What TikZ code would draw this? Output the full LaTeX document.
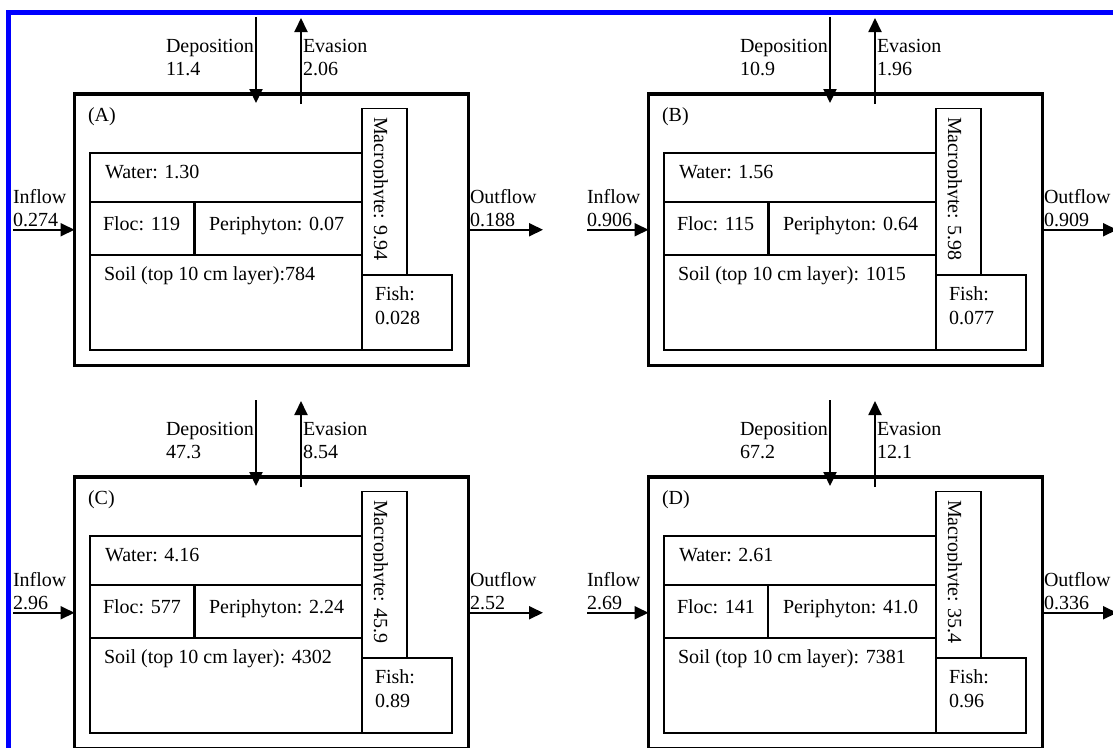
\documentclass[tikz,border=0pt]{standalone}
\usepackage{fontspec}
\setmainfont{Liberation Serif}
\usetikzlibrary{arrows.meta}
\tikzset{
  lbl/.style={anchor=base west, inner sep=0pt, outer sep=0pt, font=\fontsize{20pt}{24pt}\selectfont},
  outerbox/.style={draw, line width=3.5pt, inner sep=0pt, outer sep=0pt, anchor=north west},
  cell/.style={draw, line width=1.8pt, inner sep=0pt, outer sep=0pt, anchor=north west},
  flow/.style={line width=1.9pt, -{Triangle[length=14pt,width=13pt]}},
  bluframe/.style={draw=blue, line width=4.5pt}
}
\newcommand\setpanel[5]{\def\pperi{#1}\def\psoil{#2}\def\pmac{#3}\def\pfish{#4}\def\pdiv{#5}}
\newcommand\drawpanel[9]{%
\begin{scope}[shift={(#1,#2)}]
  \node[outerbox, minimum width=394pt, minimum height=271.5pt] (#3box) at (74.5,94) {};
  \node[cell, minimum width=272pt, minimum height=49pt] (#3water) at (90,153) {};
  \node[cell, minimum width=104.3pt, minimum height=53pt] (#3floc) at (90,202) {};
  \node[cell, minimum width=167.7pt, minimum height=53pt] (#3peri) at (194.3,202) {};
  \node[cell, minimum width=272pt, minimum height=95pt] (#3soil) at (90,255) {};
  \node[cell, minimum width=45pt, minimum height=166.2pt] (#3mac) at (362,108.5) {};
  \node[cell, minimum width=90pt, minimum height=75.3pt] (#3fish) at (362,274.7) {};
  \draw[line width=\pdiv] (#3floc.north east) -- (#3floc.south east);
  % flows
  \coordinate (#3dtop) at (256,17);
  \coordinate (#3dend) at (256,103);
  \draw[flow] (#3dtop) -- (#3dend);
  \coordinate (#3estart) at (301,104);
  \coordinate (#3etop) at (301,18);
  \draw[flow] (#3estart) -- (#3etop);
  \coordinate (#3in) at (13,229.75);
  \draw[flow] (#3in) -- (#3box.west);
  \coordinate (#3out) at (543,229.75);
  \draw[flow] (#3box.east) -- (#3out);
  % labels
  \node[lbl] (#3deplab) at (166,52) {Deposition};
  \node[lbl] (#3depval) at (166,75) {#4};
  \node[lbl] (#3evalab) at (303,52) {Evasion};
  \node[lbl] (#3evaval) at (303,75) {#5};
  \node[lbl] (#3inlab) at (13,203) {Inflow};
  \node[lbl] (#3inval) at (13,226.5) {#6};
  \node[lbl] (#3outlab) at (470,203) {Outflow};
  \node[lbl] (#3outval) at (470,226.5) {#7};
  \node[lbl] (#3tag) at (88,121.5) {(#3)};
  \node[lbl] (#3watlab) at (105,178.3) {Water: #8};
  \node[lbl] (#3floclab) at (103,230) {Floc: #9};
  \node[lbl] (#3perilab) at (209,230) {Periphyton: \pperi};
  \node[lbl] (#3soillab) at (104,280) {Soil (top 10 cm layer):\psoil};
  \node[lbl] (#3fishlab) at (375,300) {Fish:};
  \node[lbl] (#3fishval) at (375,324) {\pfish};
  \begin{scope}
    \clip (373.2,108.5) rectangle (407,274.7);
    \node[lbl, rotate=-90] (#3maclab) at (374,117) {Macrophyte: \pmac};
  \end{scope}
\end{scope}}
\begin{document}
\begin{tikzpicture}[x=1pt,y=-1pt]
  \useasboundingbox (0,0) rectangle (1113,747);
  \fill[white] (0,0) rectangle (1113,747);
  \clip (0,0) rectangle (1113,747);
  \draw[bluframe] (1200,12.5) -- (8.5,12.5) -- (8.5,800);
  \setpanel{0.07}{784}{9.94}{0.028}{3.3pt}
  \drawpanel{0}{0}{A}{11.4}{2.06}{0.274}{0.188}{1.30}{119}
  \setpanel{0.64}{ 1015}{5.98}{0.077}{3.3pt}
  \drawpanel{574}{0}{B}{10.9}{1.96}{0.906}{0.909}{1.56}{115}
  \setpanel{2.24}{ 4302}{45.9}{0.89}{3.3pt}
  \drawpanel{0}{383}{C}{47.3}{8.54}{2.96}{2.52}{4.16}{577}
  \setpanel{41.0}{ 7381}{35.4}{0.96}{1.8pt}
  \drawpanel{574}{383}{D}{67.2}{12.1}{2.69}{0.336}{2.61}{141}
\end{tikzpicture}
\end{document}
